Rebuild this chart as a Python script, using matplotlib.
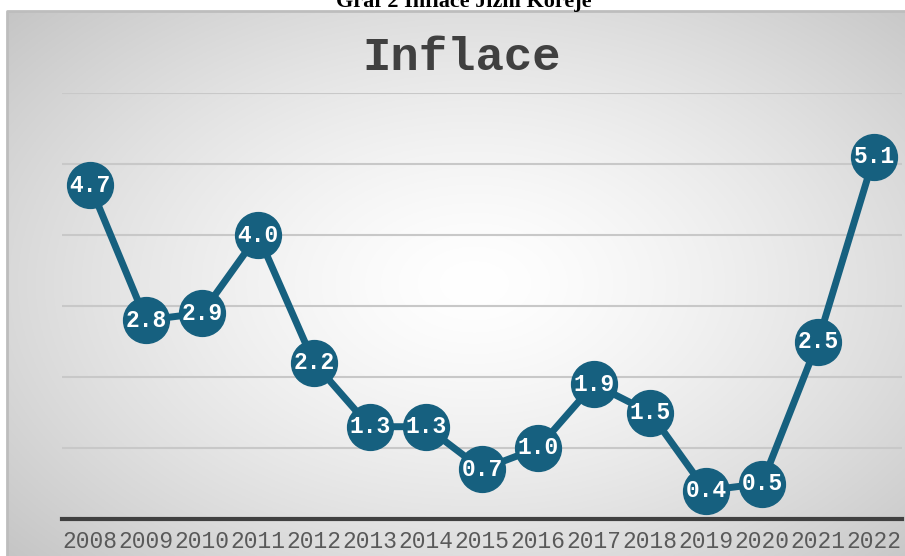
import numpy as np
import matplotlib
matplotlib.use("Agg")
import matplotlib.pyplot as plt

years = ["2008", "2009", "2010", "2011", "2012", "2013", "2014", "2015",
         "2016", "2017", "2018", "2019", "2020", "2021", "2022"]
inflation = [4.7, 2.8, 2.9, 4.0, 2.2, 1.3, 1.3, 0.7, 1.0, 1.9, 1.5, 0.4, 0.5, 2.5, 5.1]

W, H = 905, 556
fig = plt.figure(figsize=(W / 100, H / 100), dpi=100)
fig.patch.set_facecolor("white")

# chart-area background with radial gradient
bx0, by0 = 7 / W, 0
bw, bh = 1 - bx0, 1 - 11 / H
bg = fig.add_axes([bx0, by0, bw, bh], zorder=0)
ny, nx = 300, 500
yy, xx = np.mgrid[0:1:ny * 1j, 0:1:nx * 1j]
d = np.sqrt(((xx - 0.52) / 0.75) ** 2 + ((yy - 0.5) / 0.8) ** 2)
d = np.clip(d, 0, 1)
val = 1.0 - 0.25 * d ** 1.4
img = np.dstack([val, val, val])
bg.imshow(img, extent=[0, 1, 0, 1], aspect="auto", origin="lower")
bg.set_xlim(0, 1)
bg.set_ylim(0, 1)
bg.axis("off")
bg.plot([0, 0, 1], [0, 1, 1], color="#bdbdbd", lw=2, transform=bg.transAxes, clip_on=False)

ax = fig.add_axes([62 / W, (H - 519) / H, 840 / W, 426 / H], zorder=1)
ax.patch.set_alpha(0)
x = np.arange(len(years))
ax.set_xlim(-0.5, len(years) - 0.5)
ax.set_ylim(0, 6)
for gy in range(1, 7):
    ax.axhline(gy, color="#c8c8c8", lw=1.5, zorder=1)
for s in ["top", "right", "left"]:
    ax.spines[s].set_visible(False)
ax.spines["bottom"].set_color("#404040")
ax.spines["bottom"].set_linewidth(3)
ax.set_yticks([])
ax.set_xticks(x)
ax.set_xticklabels(years, family="Liberation Mono", fontsize=16.5, color="#595959")
ax.tick_params(axis="x", length=0, pad=8)

col = "#16607f"
ax.plot(x, inflation, color=col, lw=5, zorder=3, clip_on=False)
ax.plot(x, inflation, "o", color=col, ms=33, zorder=4, clip_on=False)
for xi, v in zip(x, inflation):
    ax.text(xi, v, f"{v:.1f}", ha="center", va="center", color="white",
            family="Liberation Mono", fontweight="bold", fontsize=16.5, zorder=5)

fig.text(462 / W, 1 - 58 / H, "Inflace", ha="center", va="center",
         family="Liberation Mono", fontweight="bold", fontsize=34, color="#404040")
fig.text(464 / W, 1 - 7 / H, "Graf 2 Inflace Jižní Koreje", ha="center", va="baseline",
         family="Liberation Serif", fontweight="bold", fontsize=16, color="black")

fig.savefig("out.png", dpi=100)
